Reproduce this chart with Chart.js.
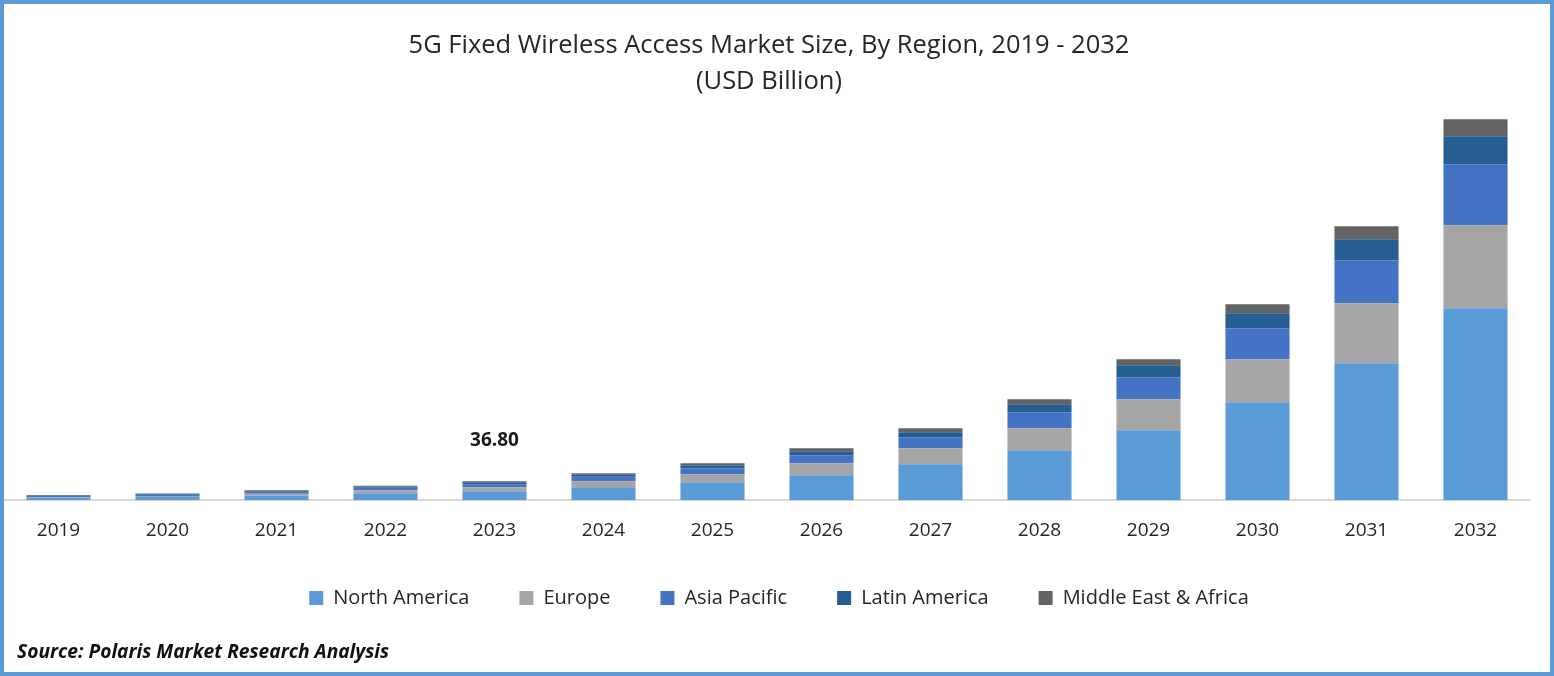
<!DOCTYPE html>
<html><head><meta charset="utf-8">
<style>
html,body{margin:0;padding:0;background:#fff;overflow:hidden}
#frame{width:1554px;height:676px;box-sizing:border-box;border:4px solid #5B9BD5;position:relative;background:#fff}
#frame canvas{position:absolute;left:0;top:0}
#source{position:absolute;left:13px;top:634px;font:italic bold 19.2px/26px "Open Sans";color:#111;white-space:nowrap}
</style>
<script src="https://cdn.jsdelivr.net/npm/chart.js@4"></script>
</head><body>
<div id="frame"><canvas id="c" width="1546" height="668"></canvas><div id="source"></div></div>
<script>
const years=['2019','2020','2021','2022','2023','2024','2025','2026','2027','2028','2029','2030','2031','2032'];
const northAmerica=[4.8,6.2,8.7,13.6,17.4,25.2,34.9,48.4,69.7,96.9,135.6,189.8,265.4,371.9];
const europe=[1.5,1.9,3.9,5.8,7.8,11.6,15.5,23.2,31.0,42.6,60.0,83.3,116.2,160.8];
const asiaPacific=[1.9,2.5,3.3,4.8,5.8,8.7,11.6,15.5,21.3,31.0,42.6,60.0,83.3,118.2];
const latinAmerica=[1.0,1.4,1.5,1.9,3.9,3.9,5.8,7.7,9.7,15.5,23.2,29.1,40.7,54.2];
const middleEastAfrica=[0.8,1.2,1.9,1.9,1.9,2.9,3.9,5.8,7.7,9.7,11.6,17.4,25.2,32.9];
const annotated={index:4,label:'36.80'};
const titleLines=['5G Fixed Wireless Access Market Size, By Region, 2019 - 2032','(USD Billion)'];
const sourceText='Source: Polaris Market Research Analysis';
document.getElementById('source').textContent=sourceText;
const FONT='"Open Sans"';
const mk=(label,data,color)=>({label,data,backgroundColor:color,borderWidth:0,barPercentage:0.588,categoryPercentage:1,stack:'s'});
const annotate={id:'annotate',
  afterLayout(chart){
    chart.legend.left+=12;chart.legend.right+=12;
    chart.legend.top-=23;chart.legend.bottom-=23;
    chart.titleBlock.left+=2;chart.titleBlock.right+=2;
  },
  afterDatasetsDraw(chart){
    const {ctx,scales:{x,y}}=chart;
    ctx.save();ctx.font='bold 19px '+FONT;ctx.fillStyle='#1a1a1a';ctx.textAlign='center';ctx.textBaseline='middle';
    ctx.fillText(annotated.label,x.getPixelForValue(annotated.index),y.getPixelForValue(116));
    ctx.restore();
  }};
new Chart(document.getElementById('c'),{
  type:'bar',
  data:{labels:years,datasets:[
    mk('North America',northAmerica,'#5B9BD5'),
    mk('Europe',europe,'#A5A5A5'),
    mk('Asia Pacific',asiaPacific,'#4472C4'),
    mk('Latin America',latinAmerica,'#255E91'),
    mk('Middle East & Africa',middleEastAfrica,'#636363')]},
  options:{
    responsive:false,animation:false,
    layout:{padding:{left:0,right:20,top:24,bottom:31}},
    plugins:{
      title:{display:true,text:titleLines,color:'#262626',font:{family:FONT,size:25.5,weight:'normal',lineHeight:1.41},padding:{top:0,bottom:7}},
      legend:{position:'bottom',labels:{boxWidth:14,boxHeight:14,padding:50,color:'#262626',font:{family:FONT,size:20}}},
      tooltip:{enabled:false}
    },
    scales:{
      x:{stacked:true,grid:{display:false,drawTicks:false},border:{color:'#D9D9D9',width:2},ticks:{color:'#262626',font:{family:FONT,size:19},padding:19,maxRotation:0}},
      y:{stacked:true,display:false,min:0,max:762}
    }
  },
  plugins:[annotate]
});
</script>
</body></html>
